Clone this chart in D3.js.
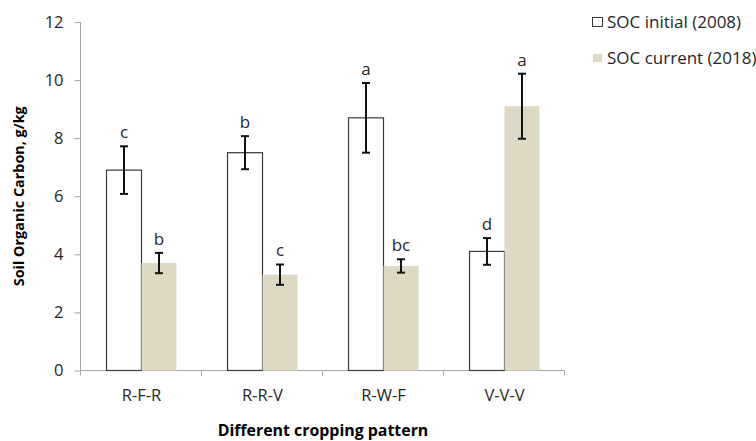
<!DOCTYPE html>
<html>
<head>
<meta charset="utf-8">
<script src="https://cdn.jsdelivr.net/npm/d3@7"></script>
<style>
  body { margin: 0; background: #fff; }
  svg { display: block; font-family: "Open Sans", sans-serif; }
</style>
</head>
<body>
<div id="chart"></div>
<script>
// data
const patterns = ["R-F-R", "R-R-V", "R-W-F", "V-V-V"];
const seriesNames = ["SOC initial (2008)", "SOC current (2018)"];
const initialValues = [6.9, 7.5, 8.7, 4.1];
const initialErrors = [0.82, 0.57, 1.2, 0.46];
const initialLetters = ["c", "b", "a", "d"];
const currentValues = [3.7, 3.3, 3.6, 9.1];
const currentErrors = [0.35, 0.35, 0.23, 1.12];
const currentLetters = ["b", "c", "bc", "a"];
const yTicks = [0, 2, 4, 6, 8, 10, 12];

const width = 756, height = 441;
const margin = {top: 22, right: 191, bottom: 70, left: 81};
const colors = ["#ffffff", "#ddd9c3"];

const svg = d3.select("#chart").append("svg")
    .attr("width", width)
    .attr("height", height);

const x = d3.scaleBand()
    .domain(patterns)
    .range([margin.left, width - margin.right]);

const xSub = d3.scaleBand()
    .domain(seriesNames)
    .range([0, x.bandwidth()])
    .paddingOuter(0.73);

const y = d3.scaleLinear()
    .domain([0, 12])
    .range([height - margin.bottom - 0.5, margin.top]);

// build rows for each bar
const rows = [];
patterns.forEach((p, i) => {
    rows.push({pattern: p, series: seriesNames[0], value: initialValues[i], err: initialErrors[i], letter: initialLetters[i], k: 0});
    rows.push({pattern: p, series: seriesNames[1], value: currentValues[i], err: currentErrors[i], letter: currentLetters[i], k: 1});
});

// axes
const yAxis = svg.append("g")
    .attr("transform", `translate(${margin.left - 0.5},0)`)
    .call(d3.axisLeft(y).tickValues(yTicks).tickSize(6).tickPadding(11));

const xAxis = svg.append("g")
    .attr("transform", `translate(0,${y(0)})`)
    .call(d3.axisBottom(x).tickSize(0).tickPadding(19));

// category boundary ticks
xAxis.selectAll(".edge")
    .data(d3.range(patterns.length + 1))
    .join("line")
    .attr("class", "edge")
    .attr("x1", i => Math.round(margin.left + i * x.step()) - 0.5)
    .attr("x2", i => Math.round(margin.left + i * x.step()) - 0.5)
    .attr("y1", 0)
    .attr("y2", 5);

[yAxis, xAxis].forEach(a => {
    a.select(".domain").attr("stroke", "#a6a6a6");
    a.selectAll("line").attr("stroke", "#a6a6a6");
    a.selectAll("text")
        .attr("font-family", "Open Sans, sans-serif")
        .attr("font-size", 16.5)
        .attr("fill", "#262626");
});
yAxis.select(".domain").attr("d", `M0,${y(12)}V${y(0)}`);
xAxis.select(".domain").attr("d", `M${margin.left - 0.5},0H${width - margin.right}`);

// bars
svg.append("g").selectAll("rect")
    .data(rows)
    .join("rect")
    .attr("x", d => x(d.pattern) + xSub(d.series))
    .attr("y", d => y(d.value))
    .attr("width", xSub.bandwidth())
    .attr("height", d => y(0) - y(d.value))
    .attr("fill", d => colors[d.k])
    .attr("stroke", d => d.k === 0 ? "#3a3a3a" : "none")
    .attr("stroke-width", 1.2);

// error bars
const errG = svg.append("g")
    .attr("stroke", "#111")
    .attr("stroke-width", 2);

const cx = d => x(d.pattern) + xSub(d.series) + xSub.bandwidth() / 2;
const capW = 4;

errG.selectAll(".stem")
    .data(rows)
    .join("line")
    .attr("x1", cx).attr("x2", cx)
    .attr("y1", d => y(d.value + d.err))
    .attr("y2", d => y(d.value - d.err));

errG.selectAll(".capTop")
    .data(rows)
    .join("line")
    .attr("x1", d => cx(d) - capW).attr("x2", d => cx(d) + capW)
    .attr("y1", d => y(d.value + d.err))
    .attr("y2", d => y(d.value + d.err));

errG.selectAll(".capBot")
    .data(rows)
    .join("line")
    .attr("x1", d => cx(d) - capW).attr("x2", d => cx(d) + capW)
    .attr("y1", d => y(d.value - d.err))
    .attr("y2", d => y(d.value - d.err));

// significance letters
svg.append("g").selectAll("text")
    .data(rows)
    .join("text")
    .attr("x", cx)
    .attr("y", d => y(d.value + d.err) - 8)
    .attr("text-anchor", "middle")
    .attr("font-size", 17)
    .attr("fill", "#262626")
    .text(d => d.letter);

// axis titles
svg.append("text")
    .attr("transform", `translate(24,${(y(0) + y(12)) / 2}) rotate(-90)`)
    .attr("text-anchor", "middle")
    .attr("font-size", 14.4)
    .attr("font-weight", "bold")
    .attr("fill", "#000")
    .text("Soil Organic Carbon, g/kg");

svg.append("text")
    .attr("x", (margin.left + width - margin.right) / 2)
    .attr("y", 435.5)
    .attr("text-anchor", "middle")
    .attr("font-size", 15.9)
    .attr("font-weight", "bold")
    .attr("fill", "#000")
    .text("Different cropping pattern");

// legend
const legend = svg.append("g")
    .selectAll("g")
    .data(seriesNames)
    .join("g")
    .attr("transform", (d, i) => `translate(592,${22 + i * 36})`);

legend.append("rect")
    .attr("x", (d, i) => i === 0 ? 0.5 : 1)
    .attr("y", (d, i) => i === 0 ? -4.5 : -4)
    .attr("width", (d, i) => i === 0 ? 10 : 9)
    .attr("height", (d, i) => i === 0 ? 9 : 8)
    .attr("fill", (d, i) => colors[i])
    .attr("stroke", (d, i) => i === 0 ? "#3a3a3a" : "none");

legend.append("text")
    .attr("x", 15)
    .attr("y", 0)
    .attr("dy", "0.35em")
    .attr("font-size", 17)
    .attr("fill", "#262626")
    .text(d => d);
</script>
</body>
</html>
